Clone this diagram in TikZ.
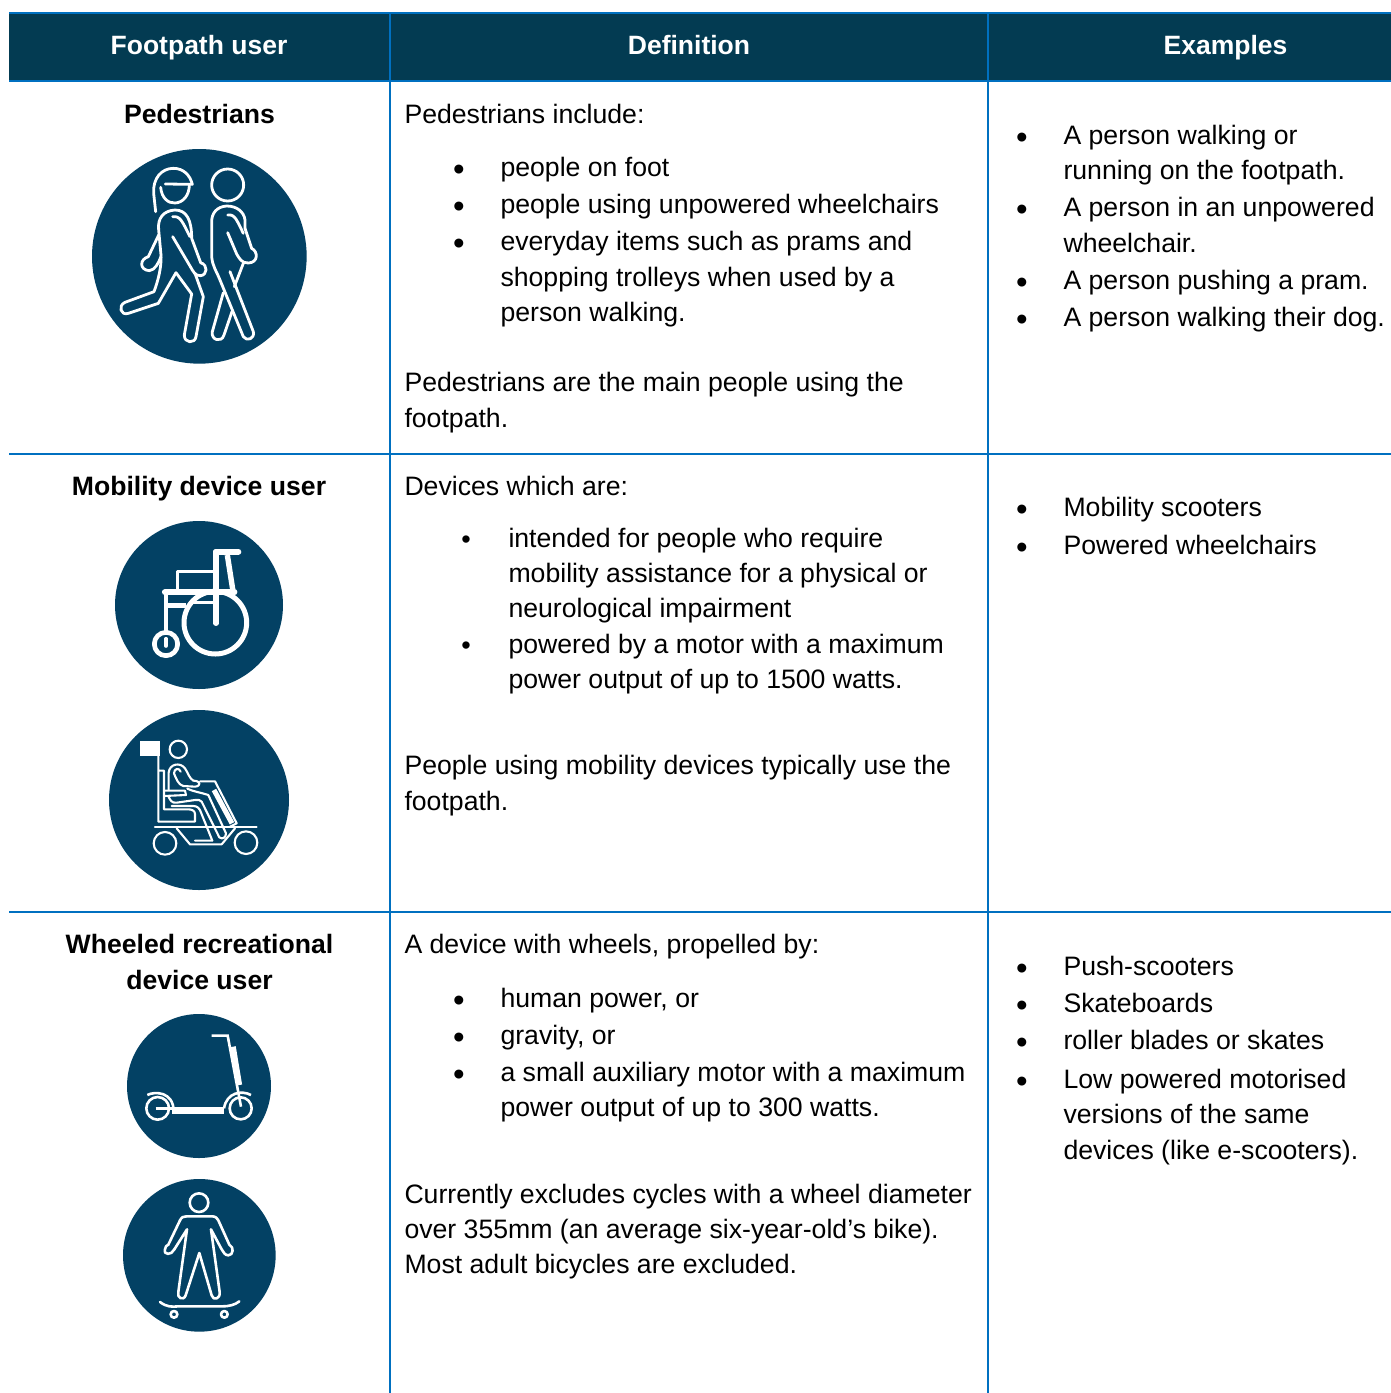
\documentclass[tikz,border=0pt]{standalone}
\usepackage{fontspec}
\setmainfont{Liberation Sans}
\definecolor{hdr}{HTML}{033B52}
\definecolor{rulec}{HTML}{0070C0}
\definecolor{icon}{HTML}{034164}
\newcounter{tn}
\newcommand{\body}{\fontsize{26.65}{30}\selectfont}
\newcommand{\bulf}{\fontsize{33}{36}\selectfont}
\newcommand{\boldt}{\fontsize{26.6}{30}\selectfont\bfseries}
\newcommand{\headt}{\fontsize{26.5}{30}\selectfont\bfseries\color{white}}
\newcommand{\tl}[3]{\stepcounter{tn}\node[txt] (t\arabic{tn}) at (#1,#2) {\body #3};}
\newcommand{\ctr}[3]{\stepcounter{tn}\node[ctxt] (t\arabic{tn}) at (#1,#2) {#3};}
\tikzset{
 txt/.style={anchor=base west,inner sep=0pt,outer sep=0pt,text=black},
 ctxt/.style={anchor=base,inner sep=0pt,outer sep=0pt,text=black},
 bul/.style={anchor=base,inner sep=0pt,outer sep=0pt,text=black,yshift=-4pt,font=\bulf},
 sbul/.style={anchor=base,inner sep=0pt,outer sep=0pt,text=black,yshift=-1pt,font=\fontsize{27}{30}\selectfont},
 grid/.style={draw=rulec,line width=2pt},
 disc/.style={fill=icon,draw=none},
 wl/.style={draw=white,line width=#1,line cap=round,line join=round,fill=none},
 wl/.default=2pt,
 zoomed/.style={x=0.33333pt,y=-0.33333pt},
}
\begin{document}
\begin{tikzpicture}[x=1pt,y=-1pt]
\useasboundingbox (0,0) rectangle (1391,1393);
\fill[white] (0,0) rectangle (1391,1393);
\fill[hdr] (9,13) rectangle (1391,81);
\draw[grid] (9,13) -- (1391,13);
\draw[grid] (9,81) -- (1391,81);
\draw[grid] (9,454) -- (1391,454);
\draw[grid] (9,912) -- (1391,912);
\draw[grid] (390,13) -- (390,1393);
\draw[grid] (988,13) -- (988,1393);
\ctr{199}{54.5}{\headt Footpath user}
\ctr{689}{54.5}{\headt Definition}
\ctr{1225.5}{54.5}{\headt Examples}
\ctr{199.5}{123}{\boldt Pedestrians}
\ctr{199}{495}{\boldt Mobility device user}
\ctr{199.5}{953}{\boldt Wheeled recreational}
\ctr{199.5}{989}{\boldt device user}
% col 2
\tl{404.5}{123}{Pedestrians include:}
\node[bul] (b1) at (459,176) {•};
\tl{500.5}{176}{people on foot}
\node[bul] (b2) at (459,213) {•};
\tl{500.5}{213}{people using unpowered wheelchairs}
\node[bul] (b3) at (459,250) {•};
\tl{500.5}{250}{everyday items such as prams and}
\tl{500.5}{286}{shopping trolleys when used by a}
\tl{500.5}{321}{person walking.}
\tl{404.5}{391}{Pedestrians are the main people using the}
\tl{404.5}{427}{footpath.}
\tl{404.5}{495}{Devices which are:}
\node[sbul] (b4) at (466,547) {•};
\tl{508.5}{547}{intended for people who require}
\tl{508.5}{582}{mobility assistance for a physical or}
\tl{508.5}{617}{neurological impairment}
\node[sbul] (b5) at (466,653) {•};
\tl{508.5}{653}{powered by a motor with a maximum}
\tl{508.5}{688}{power output of up to 1500 watts.}
\tl{404.5}{774}{People using mobility devices typically use the}
\tl{404.5}{810}{footpath.}
\tl{404.5}{953}{A device with wheels, propelled by:}
\node[bul] (b6) at (459,1007) {•};
\tl{500.5}{1007}{human power, or}
\node[bul] (b7) at (459,1044) {•};
\tl{500.5}{1044}{gravity, or}
\node[bul] (b8) at (459,1081) {•};
\tl{500.5}{1081}{a small auxiliary motor with a maximum}
\tl{500.5}{1116}{power output of up to 300 watts.}
\tl{404.5}{1203}{Currently excludes cycles with a wheel diameter}
\tl{404.5}{1238}{over 355mm (an average six-year-old’s bike).}
\tl{404.5}{1273}{Most adult bicycles are excluded.}
% col 3
\node[bul] (c1) at (1022,144) {•};
\tl{1063.5}{144}{A person walking or}
\tl{1063.5}{179}{running on the footpath.}
\node[bul] (c2) at (1022,216) {•};
\tl{1063.5}{216}{A person in an unpowered}
\tl{1063.5}{252}{wheelchair.}
\node[bul] (c3) at (1022,289) {•};
\tl{1063.5}{289}{A person pushing a pram.}
\node[bul] (c4) at (1022,326) {•};
\tl{1063.5}{326}{A person walking their dog.}
\node[bul] (c5) at (1022,516) {•};
\tl{1063.5}{516}{Mobility scooters}
\node[bul] (c6) at (1022,554) {•};
\tl{1063.5}{554}{Powered wheelchairs}
\node[bul] (c7) at (1022,975) {•};
\tl{1063.5}{975}{Push-scooters}
\node[bul] (c8) at (1022,1012) {•};
\tl{1063.5}{1012}{Skateboards}
\node[bul] (c9) at (1022,1049) {•};
\tl{1063.5}{1049}{roller blades or skates}
\node[bul] (c10) at (1022,1088) {•};
\tl{1063.5}{1088}{Low powered motorised}
\tl{1063.5}{1123}{versions of the same}
\tl{1063.5}{1159}{devices (like e-scooters).}
% pedestrians icon
\begin{scope}[shift={(80,140)},zoomed]
\fill[disc] (358,349) circle [radius=322];
\begin{scope}[wl=2.8pt]
\draw (242,142) .. controls (245,175) and (265,190) .. (285,189) .. controls (310,188) and (328,165) .. (328,135);
\draw (227,215) -- (221,160) .. controls (218,115) and (245,85) .. (280,85) .. controls (310,85) and (330,105) .. (337,133) -- (256,132);
\draw (243,345) -- (236,270) .. controls (232,235) and (250,212) .. (285,210) .. controls (320,210) and (335,240) .. (335,295) -- (362,368) .. controls (385,375) and (382,405) .. (362,407) .. controls (345,408) and (340,395) .. (330,378) -- (278,290);
\draw (278,230) .. controls (300,228) and (305,240) .. (330,290);
\draw (236,285) -- (205,350) .. controls (178,358) and (178,390) .. (208,392) .. controls (225,390) and (235,370) .. (243,350);
\draw (243,345) .. controls (245,380) and (235,420) .. (222,455) -- (135,487) .. controls (113,497) and (122,528) .. (145,520) -- (235,490) -- (288,398) -- (335,462) -- (313,585) .. controls (312,610) and (345,612) .. (348,590) -- (370,470) -- (345,400);
\draw (443,135) circle [radius=48];
\draw (495,265) -- (495,240) .. controls (492,215) and (470,198) .. (440,198) .. controls (410,200) and (395,220) .. (395,245) -- (395,350) .. controls (398,380) and (408,390) .. (420,420) -- (490,590) .. controls (500,605) and (525,597) .. (520,575) -- (450,395);
\draw (495,265) -- (515,325) .. controls (535,335) and (535,368) .. (505,369) .. controls (485,370) and (478,355) .. (470,342) -- (443,278);
\draw (443,225) .. controls (465,222) and (470,240) .. (490,280);
\draw (430,458) -- (397,575) .. controls (392,600) and (425,610) .. (432,585) -- (456,515);
\draw (463,440) -- (490,370);
\end{scope}
\end{scope}
% wheelchair icon
\fill[disc] (199,605) circle [radius=84];
\begin{scope}[shift={(151,540)},zoomed]
\draw[wl=5pt] (193,248) circle [radius=94];
\draw[wl=6pt] (195,35) -- (262,35);
\draw[wl=5.2pt] (195,35) -- (195,250);
\draw[wl=5.4pt,line cap=butt] (229,45) -- (247,160);
\draw[wl=6.2pt] (42,157) -- (250,157);
\draw[wl=3.4pt] (80,150) -- (80,95) -- (190,95);
\draw[wl=4.8pt] (45,157) -- (45,278);
\draw[wl=5.5pt,line cap=butt] (48,197) -- (105,197);
\draw[wl=3.2pt,line cap=butt] (115,187) -- (190,187);
\draw[wl=4.7pt] (45,312) circle [radius=35];
\draw[wl=3.6pt] (45,296) -- (45,318);
\end{scope}
% mobility scooter icon
\fill[disc] (199,800) circle [radius=90];
\fill[white] (139.5,741) rectangle (159.5,756);
\begin{scope}[shift={(150,740)},zoomed]
\begin{scope}[wl=2.1pt]
\draw (85,28) circle [radius=26];
\draw (25,48) -- (25,245) -- (135,245) -- (135,222) .. controls (135,212) and (125,208) .. (115,208) -- (42,208) -- (42,92) -- (27,92);
\draw (15,260) -- (320,260);
\draw (45,310) circle [radius=34];
\draw (288,308) circle [radius=34];
\draw (80,265) -- (120,313) -- (215,313) -- (255,265);
\draw (42,152) -- (105,152) -- (108,165) -- (42,168);
\draw (56,150) -- (56,98) .. controls (58,72) and (90,65) .. (105,85) .. controls (115,100) and (118,115) .. (130,122) .. controls (152,122) and (155,138) .. (135,140) -- (100,138) .. controls (85,135) and (78,115) .. (72,100) .. controls (72,85) and (88,82) .. (92,95);
\draw (112,146) .. controls (130,155) and (155,158) .. (175,165) -- (228,280) .. controls (228,292) and (218,300) .. (208,292) -- (155,185) .. controls (150,180) and (145,178) .. (135,180) -- (80,188) .. controls (65,190) and (60,180) .. (55,168);
\draw (65,198) -- (130,198) .. controls (142,198) and (148,205) .. (152,215) -- (187,302) -- (135,302);
\draw (150,124) -- (195,124) -- (260,250) -- (240,260);
\end{scope}
\draw[white,line width=5pt] (192,150) -- (246,250);
\end{scope}
% kick scooter icon
\begin{scope}[shift={(115,1005)},zoomed]
\fill[disc] (252,243) circle [radius=216];
\draw[white,line width=2.6pt] (290,92) -- (338,92) -- (378,305);
\draw[white,line width=5.6pt] (354,125) -- (373,240);
\draw[white,line width=2.6pt] (128,310) circle [radius=34];
\draw[white,line width=2.6pt] (377,310) circle [radius=33];
\draw[white,line width=2.4pt] (122,310) -- (170,310);
\draw[white,line width=6.4pt] (172,317) -- (328,317);
\draw[white,line width=2.6pt] (97,270) .. controls (120,258) and (175,260) .. (176,318);
\draw[white,line width=2.6pt] (327,310) .. controls (335,262) and (380,255) .. (408,270);
\end{scope}
% skateboard icon
\begin{scope}[shift={(115,1172)},zoomed]
\fill[disc] (253,250) circle [radius=229];
\begin{scope}[wl=2.6pt]
\draw (252,92) circle [radius=28];
\draw (253,243) -- (212,370) .. controls (205,388) and (185,378) .. (190,360) -- (216,172) -- (178,232);
\draw (178,232) .. controls (170,250) and (145,250) .. (150,232) .. controls (150,222) and (155,222) .. (160,218) -- (195,145) .. controls (200,135) and (205,133) .. (215,133) -- (292,133) .. controls (302,133) and (308,140) .. (310,145) -- (343,218) .. controls (358,225) and (355,250) .. (340,250) .. controls (330,250) and (325,240) .. (320,232) -- (288,172) -- (314,360) .. controls (317,380) and (295,388) .. (290,370) -- (253,243);
\draw (135,390) .. controls (155,405) and (170,405) .. (190,403) -- (320,403) .. controls (345,403) and (360,398) .. (373,388);
\draw (177,427) circle [radius=10];
\draw (328,427) circle [radius=10];
\end{scope}
\end{scope}
\end{tikzpicture}
\end{document}
